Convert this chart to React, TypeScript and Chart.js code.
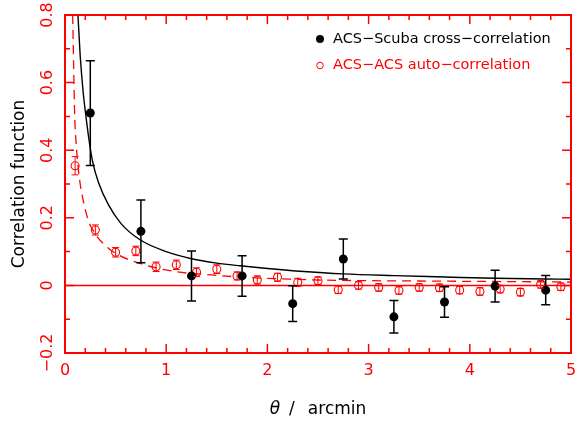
import React, { useEffect, useRef } from "react";
import { Chart, registerables } from "chart.js";

Chart.register(...registerables);

// ACS-Scuba cross-correlation (filled black points)
const crossTheta = [0.25, 0.75, 1.25, 1.75, 2.25, 2.75, 3.25, 3.75, 4.25, 4.75];
const crossW = [0.51, 0.16, 0.028, 0.028, -0.054, 0.078, -0.093, -0.049, -0.002, -0.014];
const crossErr = [0.155, 0.093, 0.074, 0.06, 0.053, 0.059, 0.048, 0.045, 0.047, 0.043];

// ACS-ACS auto-correlation (open red circles)
const autoTheta = [0.1, 0.3, 0.5, 0.7, 0.9, 1.1, 1.3, 1.5, 1.7, 1.9, 2.1, 2.3, 2.5, 2.7, 2.9, 3.1, 3.3, 3.5, 3.7, 3.9, 4.1, 4.3, 4.5, 4.7, 4.9];
const autoW = [0.354, 0.164, 0.098, 0.102, 0.055, 0.061, 0.039, 0.048, 0.028, 0.016, 0.024, 0.009, 0.014, -0.013, 0.0, -0.006, -0.015, -0.006, -0.007, -0.014, -0.018, -0.011, -0.02, 0.003, -0.004];
const autoErr = [0.027, 0.015, 0.014, 0.014, 0.014, 0.014, 0.013, 0.013, 0.012, 0.012, 0.012, 0.012, 0.011, 0.011, 0.011, 0.011, 0.011, 0.011, 0.011, 0.011, 0.011, 0.011, 0.011, 0.011, 0.011];

// Fitted curve through the cross-correlation (solid black)
const crossFitTheta = [0.128, 0.15, 0.18, 0.207, 0.24, 0.273, 0.33, 0.43, 0.556, 0.741, 1.0, 1.25, 1.5, 1.73, 2.0, 2.32, 2.75, 3.25, 3.75, 4.25, 4.75, 5.0];
const crossFitW = [0.8, 0.68, 0.57, 0.5, 0.425, 0.366, 0.305, 0.238, 0.182, 0.135, 0.1, 0.079, 0.066, 0.058, 0.05, 0.042, 0.034, 0.029, 0.025, 0.021, 0.019, 0.018];

// Fitted curve through the auto-correlation (dashed red)
const autoFitTheta = [0.076, 0.086, 0.096, 0.11, 0.128, 0.15, 0.175, 0.2, 0.234, 0.3, 0.36, 0.5, 0.741, 1.087, 1.45, 1.66, 2.0, 2.5, 3.0, 3.5, 4.0, 4.5, 5.0];
const autoFitW = [0.8, 0.64, 0.5, 0.42, 0.356, 0.3, 0.258, 0.225, 0.189, 0.152, 0.129, 0.095, 0.065, 0.041, 0.031, 0.026, 0.021, 0.016, 0.014, 0.013, 0.012, 0.011, 0.01];

// Axes
const xTickValues = [0, 1, 2, 3, 4, 5];
const xTickLabels = ["0", "1", "2", "3", "4", "5"];
const yTickValues = [-0.2, 0, 0.2, 0.4, 0.6, 0.8];
const yTickLabels = ["\u22120.2", "0", "0.2", "0.4", "0.6", "0.8"];

const legendLabels = ["ACS\u2212Scuba cross\u2212correlation", "ACS\u2212ACS auto\u2212correlation"];
const yTitle = "Correlation function";
const xTitleSymbol = "\u03b8";
const xTitleRest = ["/", "arcmin"];

const RED = "#ff0000";
const FONT = '"DejaVu Sans", sans-serif';

const pts = (xs: number[], ys: number[]) => xs.map((x, i) => ({ x, y: ys[i] }));

function drawErrors(ctx: CanvasRenderingContext2D, xs: any, ys: any, tx: number[], w: number[], e: number[], color: string, lw: number, cap: number) {
  ctx.save();
  ctx.strokeStyle = color;
  ctx.lineWidth = lw;
  for (let i = 0; i < tx.length; i++) {
    const px = xs.getPixelForValue(tx[i]);
    const top = ys.getPixelForValue(w[i] + e[i]);
    const bot = ys.getPixelForValue(w[i] - e[i]);
    ctx.beginPath();
    ctx.moveTo(px, top);
    ctx.lineTo(px, bot);
    ctx.moveTo(px - cap, top);
    ctx.lineTo(px + cap, top);
    ctx.moveTo(px - cap, bot);
    ctx.lineTo(px + cap, bot);
    ctx.stroke();
  }
  ctx.restore();
}

export default function App() {
  const ref = useRef<HTMLCanvasElement>(null);

  useEffect(() => {
    const canvas = ref.current;
    if (!canvas) return;

    const decor = {
      id: "decor",
      beforeDatasetsDraw(chart: any) {
        const { ctx, chartArea: a, scales } = chart;
        const y0 = scales.y.getPixelForValue(0);
        ctx.save();
        ctx.strokeStyle = RED;
        ctx.lineWidth = 1.5;
        ctx.beginPath();
        ctx.moveTo(a.left, y0);
        ctx.lineTo(a.right, y0);
        ctx.stroke();
        ctx.restore();
      },
      afterDatasetsDraw(chart: any) {
        const { ctx, scales } = chart;
        drawErrors(ctx, scales.x, scales.y, autoTheta, autoW, autoErr, RED, 1, 3.5);
        drawErrors(ctx, scales.x, scales.y, crossTheta, crossW, crossErr, "#000000", 1.5, 4.5);
      },
      afterDraw(chart: any) {
        const { ctx, chartArea: a, scales } = chart;
        const xs = scales.x;
        const ys = scales.y;
        ctx.save();
        // frame
        ctx.strokeStyle = RED;
        ctx.lineWidth = 2;
        ctx.strokeRect(a.left, a.top, a.right - a.left, a.bottom - a.top);
        // ticks on all four sides, pointing inward
        ctx.lineWidth = 1.5;
        ctx.beginPath();
        for (let k = 0; k <= 25; k++) {
          const v = k * 0.2;
          const len = k % 5 === 0 ? 9 : 5;
          const px = xs.getPixelForValue(v);
          ctx.moveTo(px, a.bottom);
          ctx.lineTo(px, a.bottom - len);
          ctx.moveTo(px, a.top);
          ctx.lineTo(px, a.top + len);
        }
        for (let k = -2; k <= 8; k++) {
          const v = k * 0.1;
          const len = k % 2 === 0 ? 9 : 5;
          const py = ys.getPixelForValue(v);
          ctx.moveTo(a.left, py);
          ctx.lineTo(a.left + len, py);
          ctx.moveTo(a.right, py);
          ctx.lineTo(a.right - len, py);
        }
        ctx.stroke();

        // tick labels
        ctx.fillStyle = RED;
        ctx.font = `16px ${FONT}`;
        ctx.textAlign = "center";
        ctx.textBaseline = "middle";
        xTickValues.forEach((v, i) => {
          ctx.fillText(xTickLabels[i], xs.getPixelForValue(v), a.bottom + 18);
        });
        yTickValues.forEach((v, i) => {
          ctx.save();
          ctx.translate(a.left - 17, ys.getPixelForValue(v));
          ctx.rotate(-Math.PI / 2);
          ctx.fillText(yTickLabels[i], 0, 0);
          ctx.restore();
        });

        // y title
        ctx.fillStyle = "#000000";
        ctx.font = `17px ${FONT}`;
        ctx.save();
        ctx.translate(20, (a.top + a.bottom) / 2);
        ctx.rotate(-Math.PI / 2);
        ctx.fillText(yTitle, 0, 0);
        ctx.restore();

        // x title: italic theta, then "/", then "arcmin"
        const cx = (a.left + a.right) / 2;
        const ty = a.bottom + 57;
        ctx.textAlign = "left";
        ctx.font = `italic 17px ${FONT}`;
        const w0 = ctx.measureText(xTitleSymbol).width;
        ctx.font = `17px ${FONT}`;
        const w1 = ctx.measureText(xTitleRest[0]).width;
        const w2 = ctx.measureText(xTitleRest[1]).width;
        const g1 = 9;
        const g2 = 13;
        let sx = cx - (w0 + g1 + w1 + g2 + w2) / 2;
        ctx.font = `italic 17px ${FONT}`;
        ctx.fillText(xTitleSymbol, sx, ty);
        sx += w0 + g1;
        ctx.font = `17px ${FONT}`;
        ctx.fillText(xTitleRest[0], sx, ty);
        sx += w1 + g2;
        ctx.fillText(xTitleRest[1], sx, ty);

        // legend
        ctx.font = `14.5px ${FONT}`;
        ctx.textAlign = "left";
        ctx.fillStyle = "#000000";
        ctx.beginPath();
        ctx.arc(320, 39, 4, 0, Math.PI * 2);
        ctx.fill();
        ctx.fillText(legendLabels[0], 333, 39);
        ctx.strokeStyle = RED;
        ctx.lineWidth = 1;
        ctx.beginPath();
        ctx.arc(320, 65.5, 3.3, 0, Math.PI * 2);
        ctx.stroke();
        ctx.fillStyle = RED;
        ctx.fillText(legendLabels[1], 333, 65.5);
        ctx.restore();
      },
    };

    const chart = new Chart(canvas, {
      type: "scatter",
      data: {
        datasets: [
          {
            label: "cross",
            data: pts(crossTheta, crossW),
            pointRadius: 4.5,
            pointBackgroundColor: "#000000",
            pointBorderWidth: 0,
            showLine: false,
          },
          {
            label: "auto",
            data: pts(autoTheta, autoW),
            pointRadius: 4,
            pointBackgroundColor: "rgba(255,255,255,0)",
            pointBorderColor: RED,
            pointBorderWidth: 1.1,
            showLine: false,
          },
          {
            label: "crossFit",
            data: pts(crossFitTheta, crossFitW),
            showLine: true,
            pointRadius: 0,
            borderColor: "#000000",
            borderWidth: 1.4,
            cubicInterpolationMode: "monotone",
            fill: false,
          },
          {
            label: "autoFit",
            data: pts(autoFitTheta, autoFitW),
            showLine: true,
            pointRadius: 0,
            borderColor: RED,
            borderWidth: 1.3,
            borderDash: [9, 6],
            cubicInterpolationMode: "monotone",
            fill: false,
          },
        ],
      } as any,
      options: {
        animation: false,
        responsive: false,
        maintainAspectRatio: false,
        devicePixelRatio: 1,
        layout: { padding: { left: 0, top: 15, right: 12, bottom: 0 } },
        plugins: { legend: { display: false }, tooltip: { enabled: false } },
        events: [],
        scales: {
          x: {
            type: "linear",
            min: 0,
            max: 5,
            ticks: { display: false },
            grid: { display: false },
            border: { display: false },
            afterFit: (s: any) => {
              s.height = 69;
            },
          },
          y: {
            type: "linear",
            min: -0.2,
            max: 0.8,
            ticks: { display: false },
            grid: { display: false },
            border: { display: false },
            afterFit: (s: any) => {
              s.width = 65;
            },
          },
        },
      } as any,
      plugins: [decor],
    });

    return () => chart.destroy();
  }, []);

  return (
    <div style={{ position: "fixed", left: 0, top: 0, width: 583, height: 422, background: "#ffffff" }}>
      <canvas ref={ref} width={583} height={422} style={{ display: "block", width: 583, height: 422 }} />
    </div>
  );
}
